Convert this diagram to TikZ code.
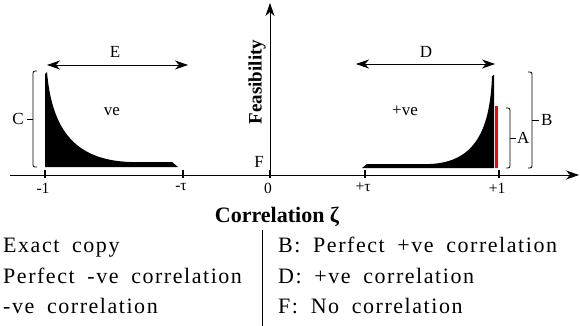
\documentclass[tikz,border=0pt]{standalone}
\usepackage{fontspec}
\setmainfont{Liberation Serif}
\newfontfamily\legendfont[LetterSpace=7,WordSpace=1.8]{Liberation Serif}
\usetikzlibrary{arrows.meta}
\begin{document}
\begin{tikzpicture}[x=1pt,y=-1pt,
  axis/.style={line width=0.8pt,-{Stealth[length=13pt,width=9pt,inset=4pt]}},
  dblarrow/.style={line width=0.8pt,{Stealth[length=13pt,width=9pt,inset=4pt]}-{Stealth[length=13pt,width=9pt,inset=4pt]}},
  tickmark/.style={line width=1.3pt},
  ticklabel/.style={font=\fontsize{15.5}{15.5}\selectfont,anchor=north,inner sep=0pt},
  lbl/.style={font=\fontsize{17}{17}\selectfont,inner sep=0pt},
  brk/.style={line width=0.8pt,rounded corners=2pt},
  legend/.style={font=\legendfont\fontsize{22}{22}\selectfont,anchor=base west,inner sep=0pt}]
\useasboundingbox (0,0) rectangle (580,326);
% axes
\coordinate (xs) at (10,175);
\coordinate (xe) at (579,175);
\coordinate (o) at (270,175);
\coordinate (ye) at (270,3);
\draw[axis] (xs) -- (xe);
\draw[axis] (o) -- (ye);
% ticks
\foreach \n/\x/\t in {m1/45/-1, mt/183/-τ, z/270/0, pt/365/+τ, p1/499/+1}{
  \coordinate (t\n) at (\x,175);
  \draw[tickmark] ([yshift=5pt]t\n) -- ([yshift=-3pt]t\n);
  \node[ticklabel] (l\n) at ([xshift=-2pt,yshift=-8pt]t\n) {\t};
}
% black shapes
\fill (45,167) -- (45,74) -- (47,72) .. controls (52,130) and (75,160) .. (130,162) -- (172,162) -- (178,167) -- cycle;
\fill (362,168) -- (367,164) -- (430,164) .. controls (475,162) and (490,130) .. (492,76) -- (494,75) -- (494,168) -- cycle;
\fill[red] (495,106) rectangle (498,168);
% brackets
\draw[brk] (37,71) -- (33,71) -- (33,167) -- (37,167);
\draw[line width=0.8pt] (33,119) -- (27,119);
\node[lbl,anchor=east] (C) at (24,119) {C};
\draw[brk] (506,108) -- (510,108) -- (510,168) -- (506,168);
\draw[line width=0.8pt] (510,138) -- (516,138);
\node[lbl,anchor=west] (A) at (517,138) {A};
\draw[brk] (528,72) -- (532,72) -- (532,168) -- (528,168);
\draw[line width=0.8pt] (532,120) -- (539,120);
\node[lbl,anchor=west] (B) at (541,120) {B};
% double arrows
\coordinate (e1) at (47,65);
\coordinate (e2) at (188,65);
\draw[dblarrow] (e1) -- (e2);
\node[lbl] (E) at (115,52) {E};
\coordinate (d1) at (356,64);
\coordinate (d2) at (495,64);
\draw[dblarrow] (d1) -- (d2);
\node[lbl] (D) at (426,52) {D};
% region labels
\node[lbl,anchor=base] (ve) at (112,115) {ve};
\node[lbl,anchor=base] (pve) at (405,115) {+ve};
\node[lbl] (F) at (259,162) {F};
\node[font=\bfseries\fontsize{19}{19}\selectfont,rotate=90,inner sep=0pt] (feas) at (257,82) {Feasibility};
\node[font=\bfseries\fontsize{22}{22}\selectfont,anchor=base,inner sep=0pt] (corr) at (277,222) {Correlation ζ};
% legend
\coordinate (s1) at (262,230);
\coordinate (s2) at (262,326);
\draw[line width=0.6pt] (s1) -- (s2);
\node[legend] (l1) at (3,252) {Exact copy};
\node[legend] (l2) at (3,283) {Perfect -ve correlation};
\node[legend] (l3) at (3,313) {-ve correlation};
\node[legend] (r1) at (278,252) {B: Perfect +ve correlation};
\node[legend] (r2) at (278,283) {D: +ve correlation};
\node[legend] (r3) at (278,313) {F: No correlation};
\end{tikzpicture}
\end{document}
